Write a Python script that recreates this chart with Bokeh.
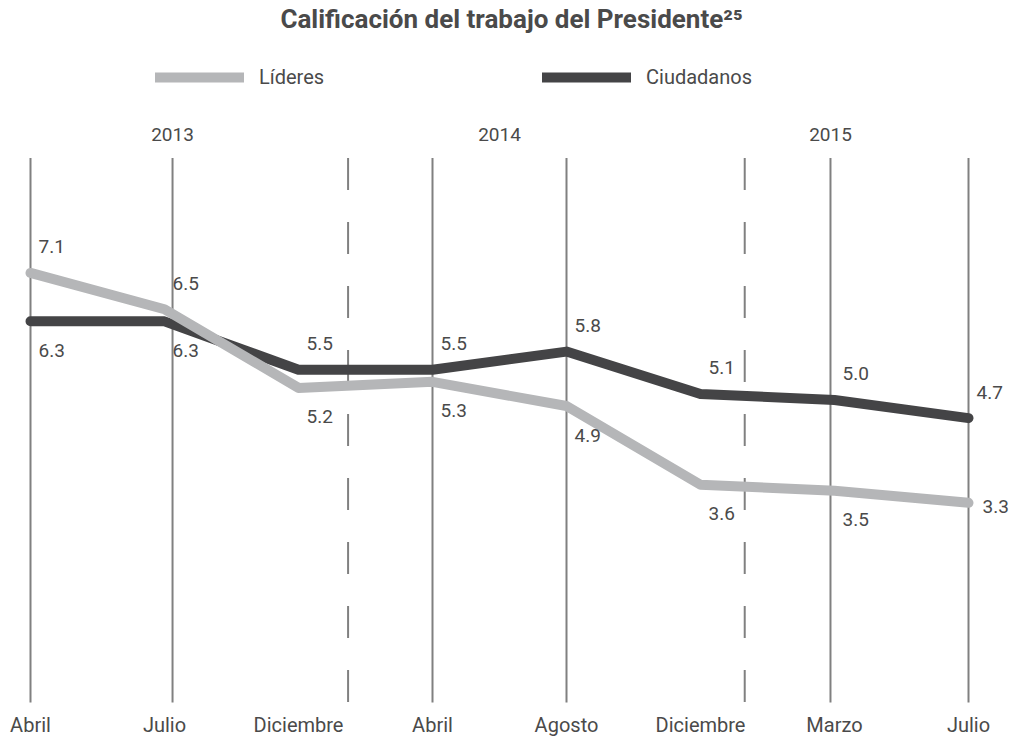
from bokeh.plotting import figure
from bokeh.models import Range1d, Legend, LegendItem, Label, ColumnDataSource
from bokeh.core.properties import value
from bokeh.embed import file_html
from bokeh.resources import INLINE

# ---------------- data ----------------
title_text = "Calificación del trabajo del Presidente²⁵"
legend_labels = ["Líderes", "Ciudadanos"]
categories = ["Abril", "Julio", "Diciembre", "Abril", "Agosto", "Diciembre", "Marzo", "Julio"]
period_index = [0, 1, 2, 3, 4, 5, 6, 7]
lideres = [7.1, 6.5, 5.2, 5.3, 4.9, 3.6, 3.5, 3.3]
ciudadanos = [6.3, 6.3, 5.5, 5.5, 5.8, 5.1, 5.0, 4.7]
years = ["2013", "2014", "2015"]
year_pos = [1.06, 3.5, 5.97]
solid_marks = [0, 1.06, 3, 4, 5.97, 7]
dashed_marks = [2.37, 5.33]
lideres_place = ["above", "above", "below", "below", "below", "below", "below", "right"]
ciudadanos_place = ["below", "below", "above", "above", "above", "above", "above", "above"]

# ---------------- style ----------------
FONT = "Roboto"
TEXT_COLOR = "#4a4a4a"
LIGHT = "#b5b6b8"
DARK = "#444446"
GRID = "#808080"
LINE_TOP = 9.0
W, H = 1018, 736

p = figure(width=W, height=H, output_backend="svg", toolbar_location=None,
           x_range=Range1d(-0.2239, 7.3731), y_range=Range1d(-0.562, 11.603),
           min_border=0, outline_line_color=None)
p.axis.visible = False
p.grid.visible = False
p.background_fill_color = "white"
p.border_fill_color = "white"

# vertical reference lines
n_s = len(solid_marks)
p.segment(x0=solid_marks, y0=[0] * n_s, x1=solid_marks, y1=[LINE_TOP] * n_s,
          line_color=GRID, line_width=2)
n_d = len(dashed_marks)
p.segment(x0=dashed_marks, y0=[LINE_TOP] * n_d, x1=dashed_marks, y1=[0] * n_d,
          line_color=GRID, line_width=2, line_dash="32 32")

# series lines
r_c = p.line(period_index, ciudadanos, line_color=DARK, line_width=10,
             line_cap="round", line_join="round")
r_l = p.line(period_index, lideres, line_color=LIGHT, line_width=10,
             line_cap="round", line_join="round")


def offsets(places):
    xo, yo = [], []
    for pl in places:
        if pl == "above":
            xo.append(8); yo.append(-26)
        elif pl == "below":
            xo.append(8); yo.append(29)
        else:
            xo.append(14); yo.append(4)
    return xo, yo


for vals, places in ((lideres, lideres_place), (ciudadanos, ciudadanos_place)):
    xo, yo = offsets(places)
    src = ColumnDataSource(dict(x=period_index, y=vals, t=[f"{v:.1f}" for v in vals],
                                xo=xo, yo=yo))
    p.text(x="x", y="y", text="t", x_offset="xo", y_offset="yo", source=src,
           text_font=value(FONT), text_font_size="19px", text_color=TEXT_COLOR,
           text_align="left", text_baseline="middle")

# year labels
p.text(x=year_pos, y=[LINE_TOP] * len(years), text=years, y_offset=-23,
       text_font=value(FONT), text_font_size="19px", text_color=TEXT_COLOR,
       text_align="center", text_baseline="middle")

# category labels
p.text(x=period_index, y=[0] * len(categories), text=categories, y_offset=23,
       text_font=value(FONT), text_font_size="20px", text_color=TEXT_COLOR,
       text_align="center", text_baseline="alphabetic")

# title
p.add_layout(Label(x=511, y=H - 18, x_units="screen", y_units="screen", text=title_text,
                   text_font=FONT, text_font_size="26px", text_font_style="bold",
                   text_color=TEXT_COLOR, text_align="center", text_baseline="middle"))

# legends (one item each so they can be placed independently)
for r, lab, xloc in ((r_l, legend_labels[0], 155), (r_c, legend_labels[1], 542)):
    lg = Legend(items=[LegendItem(label=lab, renderers=[r])], location=(xloc, H - 89),
                orientation="horizontal", glyph_width=89, glyph_height=22,
                label_standoff=15, padding=0, margin=0, spacing=0,
                border_line_alpha=0, background_fill_alpha=0,
                label_text_font=FONT, label_text_font_size="20px",
                label_text_color=TEXT_COLOR, label_height=22)
    p.add_layout(lg)

open("out.html", "w").write(file_html(p, INLINE))
